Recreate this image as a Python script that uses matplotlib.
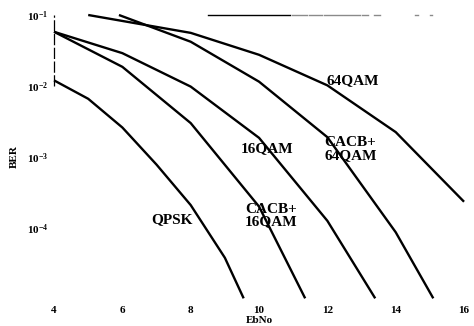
import matplotlib
matplotlib.use("Agg")
import matplotlib.pyplot as plt

# -----------------------------
# Data
# -----------------------------
QPSK_X = [4, 5, 6, 7, 8, 9, 9.55]
QPSK_BER = [1.2e-2, 6.6e-3, 2.6e-3, 7.8e-4, 2.1e-4, 3.8e-5, 1.02e-5]

CACB16_X = [4, 6, 8, 10, 11.35]
CACB16_BER = [5.8e-2, 1.86e-2, 3.0e-3, 2.0e-4, 1.02e-5]

QAM16_X = [4, 6, 8, 10, 12, 13.4]
QAM16_BER = [5.8e-2, 2.9e-2, 9.8e-3, 1.86e-3, 1.26e-4, 1.02e-5]

CACB64_X = [5.9, 8, 10, 12, 14, 15.1]
CACB64_BER = [1.0e-1, 4.2e-2, 1.15e-2, 1.9e-3, 8.7e-5, 1.02e-5]

QAM64_X = [5, 8, 10, 12, 14, 16]
QAM64_BER = [1.0e-1, 5.6e-2, 2.75e-2, 1.02e-2, 2.24e-3, 2.34e-4]

X_TICKS = [4, 6, 8, 10, 12, 14, 16]
Y_TICKS = [1e-4, 1e-3, 1e-2, 1e-1]
Y_TICK_LABELS = ["$10^{-4}$", "$10^{-3}$", "$10^{-2}$", "$10^{-1}$"]

# label text, x, ber
CURVE_LABELS = [
    ("64QAM", 12.74, 1.2e-2),
    ("CACB+\n64QAM", 12.68, 1.3e-3),
    ("16QAM", 10.23, 1.3e-3),
    ("CACB+\n16QAM", 10.35, 1.5e-4),
    ("QPSK", 7.45, 1.3e-4),
]

# leftover bits of the scanned frame
TOP_RULE_SOLID = (8.5, 10.9)
TOP_RULE_DASHES = [(10.95, 11.4), (11.45, 11.85), (11.9, 12.95), (13.0, 13.2),
                   (13.35, 13.55), (14.55, 14.65), (15.0, 15.06)]

# -----------------------------
# Style
# -----------------------------
plt.rcParams["font.family"] = ["Liberation Serif", "DejaVu Serif"]
plt.rcParams["font.weight"] = "bold"
plt.rcParams["mathtext.fontset"] = "custom"
plt.rcParams["mathtext.rm"] = "Liberation Serif:bold"
plt.rcParams["mathtext.it"] = "Liberation Serif:bold"
plt.rcParams["mathtext.bf"] = "Liberation Serif:bold"

fig = plt.figure(figsize=(4.74, 3.26), dpi=100)
ax = fig.add_axes([0.114, 0.083, 0.865, 0.871])

LW = 1.7
for xs, ys in [(QPSK_X, QPSK_BER), (CACB16_X, CACB16_BER), (QAM16_X, QAM16_BER),
               (CACB64_X, CACB64_BER), (QAM64_X, QAM64_BER)]:
    ax.plot(xs, ys, color="black", linewidth=LW, solid_capstyle="butt",
            clip_on=False)

for txt, x, y in CURVE_LABELS:
    ax.text(x, y, txt, ha="center", va="center", fontsize=11,
            fontweight="bold", linespacing=0.95)

# partial frame remnants
ax.plot([4, 4], [1e-2, 1e-1], color="black", linewidth=0.9,
        linestyle=(0, (9, 2)), clip_on=False)
ax.plot(TOP_RULE_SOLID, [1e-1, 1e-1], color="black", linewidth=1.0,
        clip_on=False)
for a, b in TOP_RULE_DASHES:
    ax.plot([a, b], [1e-1, 1e-1], color="#8a8a8a", linewidth=1.0,
            clip_on=False)

ax.set_yscale("log")
ax.set_xlim(4, 16)
ax.set_ylim(1e-5, 1e-1)
ax.set_xticks(X_TICKS)
ax.set_xticklabels([str(t) for t in X_TICKS])
ax.set_yticks(Y_TICKS)
ax.set_yticklabels(Y_TICK_LABELS)
ax.minorticks_off()
ax.tick_params(length=0, labelsize=8, pad=5)
ax.tick_params(axis="y", pad=4)

for s in ax.spines.values():
    s.set_visible(False)

ax.set_xlabel("EbNo", fontsize=8, fontweight="bold", labelpad=1)
ax.set_ylabel("BER", fontsize=8, fontweight="bold", labelpad=6)

fig.savefig("out.png", dpi=100)
